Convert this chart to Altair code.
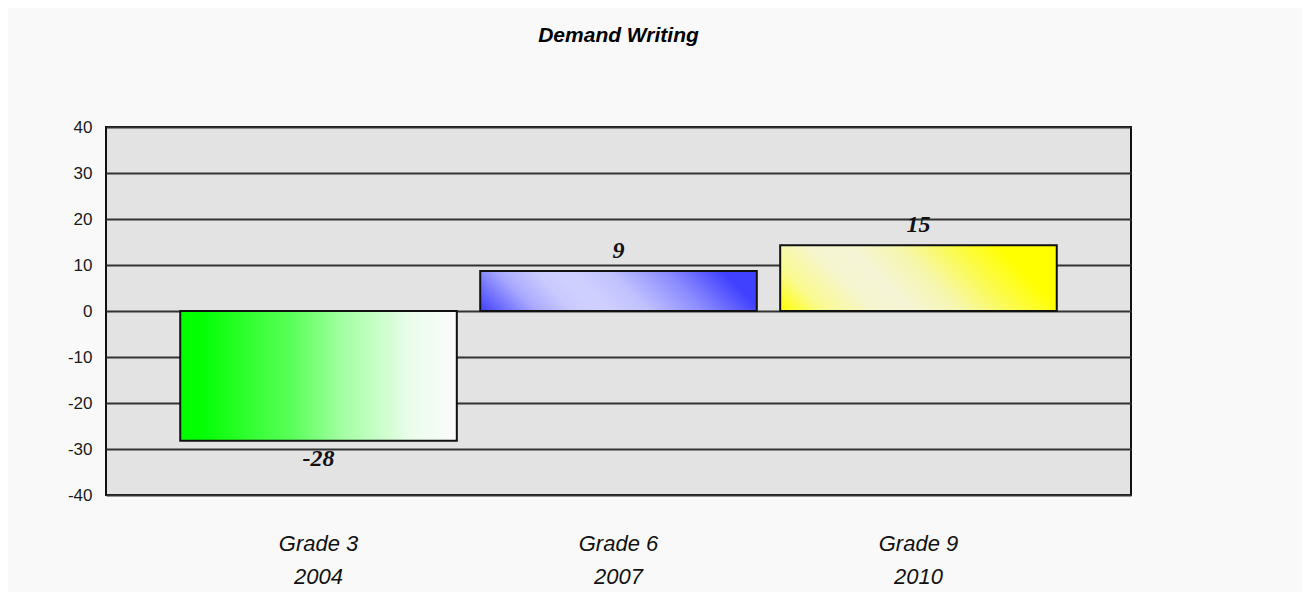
import altair as alt
import pandas as pd

grades = ["Grade 3", "Grade 6", "Grade 9"]
years = ["2004", "2007", "2010"]
bar_values = [-28.2, 8.7, 14.3]
value_labels = ["-28", "9", "15"]
y_ticks = [-40, -30, -20, -10, 0, 10, 20, 30, 40]

df = pd.DataFrame({
    "cat": [f"{g}|{y}" for g, y in zip(grades, years)],
    "value": bar_values,
    "label": value_labels,
})
cats = list(df["cat"])

x_enc = alt.X(
    "cat:N",
    sort=cats,
    scale=alt.Scale(domain=cats, paddingInner=0.078, paddingOuter=0.2475),
    axis=alt.Axis(
        title=None,
        labelExpr="split(datum.label, '|')",
        labelAngle=0,
        domain=False,
        ticks=False,
        labelFont="Liberation Sans",
        labelFontSize=22,
        labelFontStyle="italic",
        labelColor="#111111",
        labelPadding=38,
        labelLineHeight=33,
    ),
)

y_enc = alt.Y(
    "value:Q",
    scale=alt.Scale(domain=[-40, 40], nice=False, zero=False),
    axis=alt.Axis(
        title=None,
        values=y_ticks,
        labelExpr="'' + datum.value",
        ticks=False,
        domain=False,
        grid=True,
        gridColor="#333333",
        gridWidth=2,
        labelFont="Liberation Sans",
        labelFontSize=17,
        labelColor="#1a1a1a",
        labelPadding=14,
    ),
)

green = alt.LinearGradient(
    gradient="linear",
    stops=[
        alt.GradientStop(color="#00ff00", offset=0),
        alt.GradientStop(color="#04ff04", offset=0.08),
        alt.GradientStop(color="#5cff5c", offset=0.41),
        alt.GradientStop(color="#a4ffa4", offset=0.59),
        alt.GradientStop(color="#eafdea", offset=0.83),
        alt.GradientStop(color="#fbfbfb", offset=1),
    ],
    x1=0, x2=1, y1=0, y2=0,
)
blue = alt.LinearGradient(
    gradient="linear",
    stops=[
        alt.GradientStop(color="#4040ff", offset=0),
        alt.GradientStop(color="#a8a8ff", offset=0.2),
        alt.GradientStop(color="#cacaff", offset=0.33),
        alt.GradientStop(color="#d0d0ff", offset=0.45),
        alt.GradientStop(color="#c0c0ff", offset=0.6),
        alt.GradientStop(color="#8a8aff", offset=0.8),
        alt.GradientStop(color="#4040ff", offset=1),
    ],
    x1=0, y1=1, x2=1, y2=0.855,
)
yellow = alt.LinearGradient(
    gradient="linear",
    stops=[
        alt.GradientStop(color="#ffff00", offset=0),
        alt.GradientStop(color="#fafa90", offset=0.15),
        alt.GradientStop(color="#f5f5d0", offset=0.33),
        alt.GradientStop(color="#f5f5d6", offset=0.45),
        alt.GradientStop(color="#f6f6b0", offset=0.62),
        alt.GradientStop(color="#fbfb50", offset=0.8),
        alt.GradientStop(color="#ffff00", offset=0.97),
    ],
    x1=0, y1=1, x2=1, y2=0.76,
)
fills = [green, blue, yellow]

base = alt.Chart(df)

layers = []
for c, f in zip(cats, fills):
    layers.append(
        base.transform_filter(alt.datum.cat == c)
        .mark_bar(fill=f, stroke="#111111", strokeWidth=2)
        .encode(x=x_enc, y=y_enc, y2=alt.datum(0))
    )

text_style = dict(
    font="Liberation Serif",
    fontSize=24,
    fontStyle="italic",
    fontWeight="bold",
    color="#111111",
    baseline="middle",
    align="center",
)
pos_labels = base.transform_filter("datum.value >= 0").mark_text(dy=-20, **text_style).encode(
    x=x_enc, y=y_enc, text="label:N"
)
neg_labels = base.transform_filter("datum.value < 0").mark_text(dy=18, **text_style).encode(
    x=x_enc, y=y_enc, text="label:N"
)

chart = (
    alt.layer(*layers, pos_labels, neg_labels)
    .properties(
        width=1025,
        height=368,
        autosize=alt.AutoSizeParams(type="none"),
        padding={"left": 98, "top": 119, "right": 171, "bottom": 97},
        title=alt.TitleParams(
            "Demand Writing",
            font="Liberation Sans",
            fontSize=21,
            fontStyle="italic",
            fontWeight="bold",
            color="#000000",
            anchor="middle",
            baseline="alphabetic",
            offset=55,
        ),
    )
    .configure(background="#f9f9f9")
    .configure_view(fill="#e3e3e3", stroke="#111111", strokeWidth=2)
)

chart.save("out.html", embed_options={"renderer": "svg", "actions": False})
